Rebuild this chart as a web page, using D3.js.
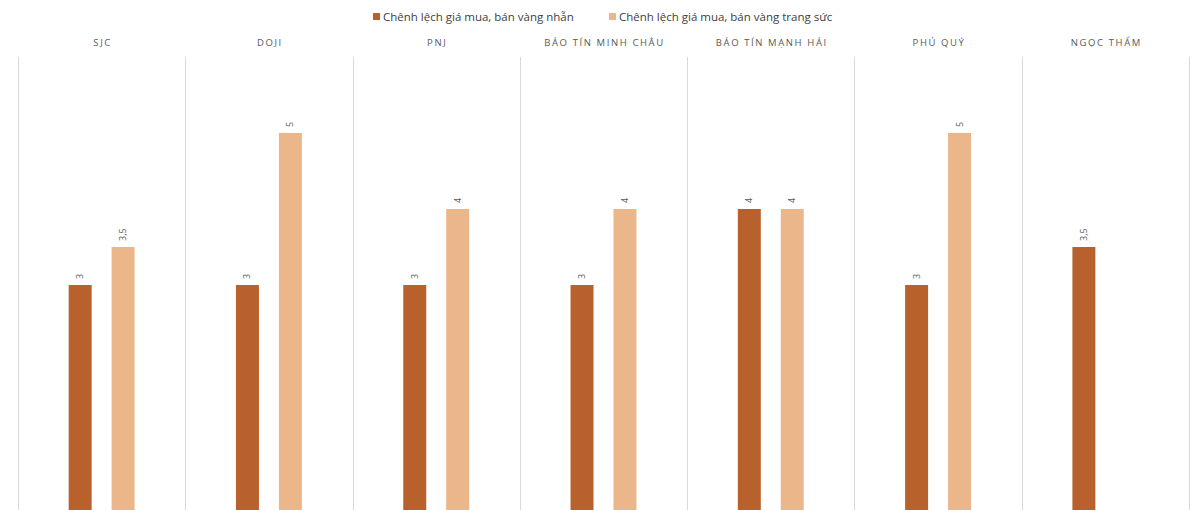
<!DOCTYPE html>
<html>
<head>
<meta charset="utf-8">
<script src="https://cdn.jsdelivr.net/npm/d3@7"></script>
<style>
  body { margin: 0; background: #fff; }
  svg { display: block; font-family: "Open Sans", "Noto Sans", sans-serif; }
</style>
</head>
<body>
<div class="canvas"></div>
<script>
const categories = ['SJC', 'DOJI', 'PNJ', 'BẢO TÍN MINH CHÂU', 'BẢO TÍN MẠNH HẢI', 'PHÚ QUÝ', 'NGỌC THẨM'];
const seriesNames = ['Chênh lệch giá mua, bán vàng nhẫn', 'Chênh lệch giá mua, bán vàng trang sức'];
const ringValues = [3, 3, 3, 3, 4, 3, 3.5];
const jewelryValues = [3.5, 5, 4, 4, 4, 5, null];
const seriesColors = ['#B9612C', '#EAB68A'];

const width = 1200;
const height = 510;
const margin = {top: 57, left: 18, right: 11};
const baseline = 513;

const svg = d3.select('.canvas')
    .append('svg')
    .attr('width', width)
    .attr('height', height);

const x0 = d3.scaleBand()
    .domain(categories)
    .range([margin.left, width - margin.right])
    .padding(0);

const x1 = d3.scaleBand()
    .domain(seriesNames)
    .range([0, x0.bandwidth()])
    .paddingInner(0.465)
    .paddingOuter(1.18);

const y = d3.scaleLinear()
    .domain([0, 6])
    .range([baseline, margin.top]);

// Panel separators
const edges = categories.map(c => x0(c)).concat([x0.range()[1]]);
svg.append('g')
    .selectAll('line')
    .data(edges)
    .enter()
    .append('line')
    .attr('x1', d => Math.round(d) + 0.5)
    .attr('x2', d => Math.round(d) + 0.5)
    .attr('y1', y(6))
    .attr('y2', height)
    .attr('stroke', '#d9d9d9')
    .attr('stroke-width', 1);

// Panel titles
svg.append('g')
    .selectAll('text')
    .data(categories)
    .enter()
    .append('text')
    .attr('x', d => x0(d) + x0.bandwidth() / 2 + 1)
    .attr('y', 46)
    .attr('text-anchor', 'middle')
    .attr('fill', '#595959')
    .style('font-size', '9.5px')
    .style('letter-spacing', '1.6px')
    .text(d => d);

// Bars
const rows = categories.map((c, i) => ({
    category: c,
    values: [ringValues[i], jewelryValues[i]]
}));

const groups = svg.append('g')
    .selectAll('g')
    .data(rows)
    .enter()
    .append('g')
    .attr('transform', d => `translate(${x0(d.category)}, 0)`);

const bars = groups.selectAll('g')
    .data(d => d.values.map((v, j) => ({series: seriesNames[j], value: v, color: seriesColors[j]}))
        .filter(e => e.value != null))
    .enter()
    .append('g');

bars.append('rect')
    .attr('x', d => x1(d.series))
    .attr('y', d => y(d.value))
    .attr('width', x1.bandwidth())
    .attr('height', d => baseline - y(d.value))
    .attr('fill', d => d.color);

// Value labels (rotated)
bars.append('text')
    .attr('transform', d => `translate(${x1(d.series) + x1.bandwidth() / 2 + 3}, ${y(d.value) - 6}) rotate(-90)`)
    .attr('text-anchor', 'start')
    .attr('fill', '#595959')
    .style('font-size', '9px')
    .text(d => String(d.value).replace('.', ','));

// Legend
const legendItems = [
    {name: seriesNames[0], color: seriesColors[0], x: 373},
    {name: seriesNames[1], color: seriesColors[1], x: 609}
];

const legend = svg.append('g')
    .selectAll('g')
    .data(legendItems)
    .enter()
    .append('g')
    .attr('transform', d => `translate(${d.x}, 0)`);

legend.append('rect')
    .attr('x', 0)
    .attr('y', 13)
    .attr('width', 7)
    .attr('height', 7)
    .attr('fill', d => d.color);

legend.append('text')
    .attr('x', 10)
    .attr('y', 21)
    .attr('fill', '#404040')
    .style('font-size', '11.5px')
    .text(d => d.name);
</script>
</body>
</html>
